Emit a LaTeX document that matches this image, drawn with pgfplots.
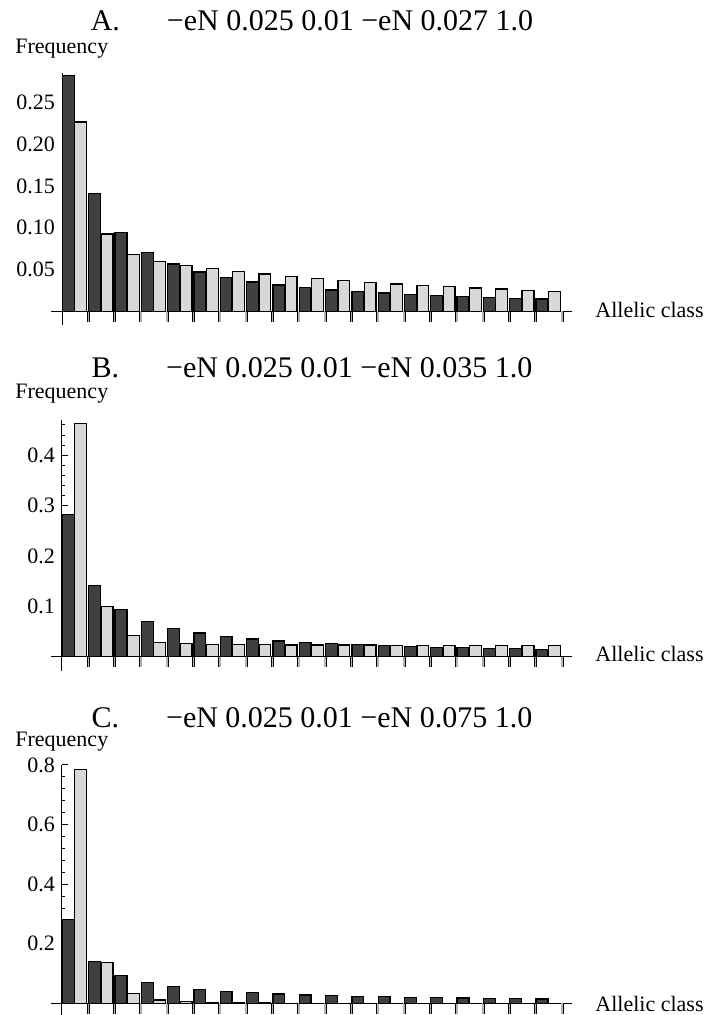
\documentclass[border=0pt]{standalone}
\usepackage{pgfplots}
\usepackage{pgfplotstable}
\pgfplotsset{compat=1.18}
\usepackage{fontspec}
\setmainfont{Liberation Serif}

\definecolor{darkbar}{HTML}{404040}
\definecolor{lightbar}{HTML}{D8D8D8}

% class, expected (dark), observed (light)
\pgfplotstableread{
k dark light
1 0.2819 0.2265
2 0.1409 0.0925
3 0.0940 0.0677
4 0.0705 0.0598
5 0.0564 0.0550
6 0.0470 0.0514
7 0.0403 0.0474
8 0.0352 0.0446
9 0.0313 0.0419
10 0.0282 0.0395
11 0.0256 0.0371
12 0.0235 0.0347
13 0.0217 0.0327
14 0.0201 0.0310
15 0.0188 0.0295
16 0.0176 0.0280
17 0.0166 0.0266
18 0.0157 0.0252
19 0.0148 0.0240
}\dataA
\pgfplotstableread{
k dark light
1 0.2819 0.4630
2 0.1409 0.0990
3 0.0940 0.0417
4 0.0705 0.0286
5 0.0564 0.0258
6 0.0470 0.0246
7 0.0403 0.0238
8 0.0352 0.0236
9 0.0313 0.0232
10 0.0282 0.0231
11 0.0256 0.0230
12 0.0235 0.0229
13 0.0217 0.0228
14 0.0201 0.0226
15 0.0188 0.0225
16 0.0176 0.0224
17 0.0166 0.0223
18 0.0157 0.0222
19 0.0148 0.0221
}\dataB
\pgfplotstableread{
k dark light
1 0.2819 0.7850
2 0.1409 0.1360
3 0.0940 0.0336
4 0.0705 0.0115
5 0.0564 0.0055
6 0.0470 0.0022
7 0.0403 0.0012
8 0.0352 0.0008
9 0.0313 0.0005
10 0.0282 0.0004
11 0.0256 0.0003
12 0.0235 0.0002
13 0.0217 0.0002
14 0.0201 0.0001
15 0.0188 0.0001
16 0.0176 0.0001
17 0.0166 0.0001
18 0.0157 0.0001
19 0.0148 0.0001
}\dataC

\pgfplotsset{
  panel/.style={
    scale only axis, width=260.5pt,
    anchor=south west,
    xmin=-0.418, xmax=19.38,
    axis x line=middle, axis y line=middle,
    axis line style={-, line width=0.5pt, black},
    every inner x axis line/.append style={-},
    every inner y axis line/.append style={-},
    xtick=\empty,
    extra x ticks={1,2,...,19}, extra x tick labels={},
    extra x tick style={tick align=outside, major tick length=5.25pt,
      major tick style={line width=0.35pt, draw=black, double=gray!60, double distance=0.8pt}},
    tick align=inside, major tick length=2.8pt, minor tick length=1.7pt,
    ytick style={line width=0.4pt, black},
    minor tick style={line width=0.3pt, black!70},
    yticklabel style={font=\fontsize{11}{13}\selectfont, xshift=0pt},
    /pgf/number format/assume math mode=true,
    clip=false,
  },
  darkbars/.style={ybar, bar width=0.45, bar shift=0pt, fill=darkbar, draw=black, line width=0.65pt},
  lightbars/.style={ybar, bar width=0.45, bar shift=0pt, fill=lightbar, draw=black, line width=0.65pt},
}

\begin{document}
\begin{tikzpicture}
\useasboundingbox (0,0) rectangle (352pt,507.5pt);

% Panel A
\begin{axis}[panel, at={(25.5pt,344.85pt)}, height=126.13pt,
  ymin=-0.01675, ymax=0.285,
  ytick={0.05,0.10,0.15,0.20,0.25}, yticklabels={0.05,0.10,0.15,0.20,0.25},
  minor ytick={0.01,0.02,...,0.285}]
\addplot[darkbars] table[x expr=\thisrow{k}-0.76, y=dark] {\dataA};
\addplot[lightbars] table[x expr=\thisrow{k}-0.29, y=light] {\dataA};
\end{axis}

% Panel B
\begin{axis}[panel, at={(25.5pt,172.15pt)}, height=125.44pt,
  ymin=-0.02778, ymax=0.47,
  ytick={0.1,0.2,0.3,0.4}, yticklabels={0.1,0.2,0.3,0.4},
  minor ytick={0.02,0.04,...,0.465}]
\addplot[darkbars] table[x expr=\thisrow{k}-0.76, y=dark] {\dataB};
\addplot[lightbars] table[x expr=\thisrow{k}-0.29, y=light] {\dataB};
\end{axis}

% Panel C
\begin{axis}[panel, at={(25.5pt,0pt)}, height=125.05pt,
  ymin=-0.03926, ymax=0.8,
  ytick={0.2,0.4,0.6,0.8}, yticklabels={0.2,0.4,0.6,0.8},
  minor ytick={0.04,0.08,...,0.79}]
\addplot[darkbars] table[x expr=\thisrow{k}-0.76, y=dark] {\dataC};
\addplot[lightbars] table[x expr=\thisrow{k}-0.29, y=light] {\dataC};
\end{axis}

% titles
\node[anchor=base, inner sep=0] at (156pt,492.4pt) {\fontsize{15}{18}\selectfont A.\hspace{23.5pt}−eN 0.025 0.01 −eN 0.027 1.0};
\node[anchor=base, inner sep=0] at (156pt,318.8pt) {\fontsize{15}{18}\selectfont B.\hspace{23.5pt}−eN 0.025 0.01 −eN 0.035 1.0};
\node[anchor=base, inner sep=0] at (156pt,143.5pt) {\fontsize{15}{18}\selectfont C.\hspace{23.5pt}−eN 0.025 0.01 −eN 0.075 1.0};

% y labels
\node[anchor=base west, inner sep=0] at (7.5pt,480.5pt) {\fontsize{11}{13}\selectfont Frequency};
\node[anchor=base west, inner sep=0] at (7.5pt,308pt) {\fontsize{11}{13}\selectfont Frequency};
\node[anchor=base west, inner sep=0] at (7.5pt,134pt) {\fontsize{11}{13}\selectfont Frequency};

% x labels
\node[anchor=base west, inner sep=0] at (297.5pt,348.8pt) {\fontsize{11}{13}\selectfont Allelic class};
\node[anchor=base west, inner sep=0] at (297.5pt,176.6pt) {\fontsize{11}{13}\selectfont Allelic class};
\node[anchor=base west, inner sep=0] at (297.5pt,1.7pt) {\fontsize{11}{13}\selectfont Allelic class};
\end{tikzpicture}
\end{document}
